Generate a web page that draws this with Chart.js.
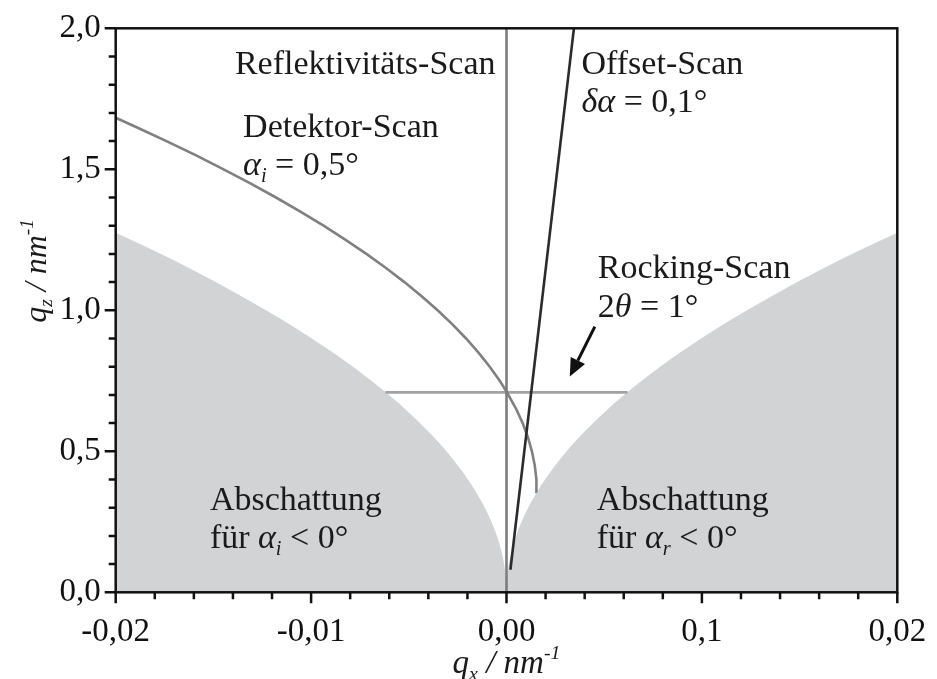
<!DOCTYPE html>
<html><head><meta charset="utf-8">
<script src="https://cdn.jsdelivr.net/npm/chart.js@4.4.1/dist/chart.umd.min.js"></script>
<style>html,body{margin:0;padding:0;background:#fff;}#wrap{width:937px;height:679px;}</style>
</head><body><div id="wrap"><canvas id="c" width="937" height="679"></canvas></div>
<script>
// ---- tick values & labels ----
const xMajorTicks = [-0.02, -0.01, 0, 0.01, 0.02];
const xTickLabels = ["-0,02", "-0,01", "0,00", "0,1", "0,02"];
const xMinorTicks = [-0.018,-0.016,-0.014,-0.012,-0.008,-0.006,-0.004,-0.002,0.002,0.004,0.006,0.008,0.012,0.014,0.016,0.018];
const yMajorTicks = [0, 0.5, 1.0, 1.5, 2.0];
const yTickLabels = ["0,0", "0,5", "1,0", "1,5", "2,0"];
const yMinorTicks = [0.1,0.2,0.3,0.4,0.6,0.7,0.8,0.9,1.1,1.2,1.3,1.4,1.6,1.7,1.8,1.9];

// ---- shadow region (alpha < 0), left half ----
const shadeLeftX = [-0.02,-0.018,-0.016,-0.014,-0.012,-0.010,-0.008,-0.006,-0.005,-0.004,-0.003,-0.002,-0.0015,-0.001,-0.0006,-0.0003,-0.0001,-0.00003,0];
const shadeLeftY = [1.275,1.210,1.141,1.067,0.988,0.902,0.807,0.699,0.638,0.570,0.494,0.403,0.349,0.285,0.221,0.156,0.090,0.049,0];
// right half
const shadeRightX = [0,0.00003,0.0001,0.0003,0.0006,0.001,0.0015,0.002,0.003,0.004,0.005,0.006,0.008,0.010,0.012,0.014,0.016,0.018,0.02];
const shadeRightY = [0,0.049,0.090,0.156,0.221,0.285,0.349,0.403,0.494,0.570,0.638,0.699,0.807,0.902,0.988,1.067,1.141,1.210,1.275];

// ---- Detektor-Scan curve ----
const detQx = [0.001555,0.001531,0.001447,0.001301,0.001095,0.000826,0.000497,0,-0.000346,-0.000859,-0.001433,-0.002069,-0.002766,-0.003525,-0.004344,-0.005225,-0.006167,-0.007171,-0.008235,-0.009361,-0.010549,-0.011797,-0.013107,-0.014478,-0.01591,-0.017404,-0.018959,-0.02];
const detQz = [0.356,0.40,0.45,0.50,0.55,0.60,0.65,0.712,0.75,0.80,0.85,0.90,0.95,1.00,1.05,1.10,1.15,1.20,1.25,1.30,1.35,1.40,1.45,1.50,1.55,1.60,1.65,1.683];

// ---- straight scans ----
const reflQx = [0, 0];      const reflQz = [0, 2.0];
const offsetQx = [0.0002, 0.00345]; const offsetQz = [0.08, 2.0];
const rockQx = [-0.0062, 0.0062]; const rockQz = [0.709, 0.709];

// ---- arrow (data coords) ----
const arrowFrom = [0.00452, 0.942];
const arrowTo = [0.00324, 0.765];

const pts = (xs, ys) => xs.map((x, i) => ({x, y: ys[i]}));

const SERIF = '"Liberation Serif", "Times New Roman", serif';
const annotations = [
  {x:-0.0139, y:1.838, parts:[{t:"Reflektivitäts-Scan"}]},
  {x:-0.01348, y:1.616, parts:[{t:"Detektor-Scan"}]},
  {x:-0.01348, y:1.480, parts:[{t:"α",it:1},{t:"i",it:1,sub:1},{t:" = 0,5°"}]},
  {x:0.00384, y:1.838, parts:[{t:"Offset-Scan"}]},
  {x:0.00384, y:1.704, parts:[{t:"δα",it:1},{t:" = 0,1°"}]},
  {x:0.00467, y:1.115, parts:[{t:"Rocking-Scan"}]},
  {x:0.00467, y:0.976, parts:[{t:"2"},{t:"θ",it:1},{t:" = 1°"}]},
  {x:-0.01518, y:0.292, parts:[{t:"Abschattung"}]},
  {x:-0.01518, y:0.157, parts:[{t:"für "},{t:"α",it:1},{t:"i",it:1,sub:1},{t:" < 0°"}]},
  {x:0.00462, y:0.292, parts:[{t:"Abschattung"}]},
  {x:0.00462, y:0.157, parts:[{t:"für "},{t:"α",it:1},{t:"r",it:1,sub:1},{t:" < 0°"}]}
];

function measureRich(ctx, parts, size) {
  let w = 0;
  for (const p of parts) {
    const fs = (p.sub || p.sup) ? size * 0.6 : size;
    ctx.font = (p.it ? 'italic ' : '') + fs + 'px ' + SERIF;
    w += ctx.measureText(p.t).width;
  }
  return w;
}
function drawRich(ctx, x, y, parts, size) {
  let cx = x;
  ctx.textAlign = 'left';
  ctx.textBaseline = 'alphabetic';
  for (const p of parts) {
    const fs = (p.sub || p.sup) ? size * 0.6 : size;
    ctx.font = (p.it ? 'italic ' : '') + fs + 'px ' + SERIF;
    const dy = p.sub ? size * 0.2 : (p.sup ? -size * 0.42 : 0);
    ctx.fillText(p.t, cx, y + dy);
    cx += ctx.measureText(p.t).width;
  }
}

const overlay = {
  id: 'overlay',
  afterDraw(chart) {
    const ctx = chart.ctx, xs = chart.scales.x, ys = chart.scales.y, a = chart.chartArea;
    ctx.save();
    ctx.strokeStyle = '#111'; ctx.lineWidth = 2.5; ctx.lineCap = 'butt';
    // frame
    ctx.strokeRect(a.left, a.top, a.right - a.left, a.bottom - a.top);
    // ticks
    ctx.beginPath();
    for (const v of xMajorTicks) { const p = xs.getPixelForValue(v); ctx.moveTo(p, a.bottom); ctx.lineTo(p, a.bottom + 11); }
    for (const v of yMajorTicks) { const p = ys.getPixelForValue(v); ctx.moveTo(a.left - 11, p); ctx.lineTo(a.left, p); }
    for (const v of xMinorTicks) { const p = xs.getPixelForValue(v); ctx.moveTo(p, a.bottom); ctx.lineTo(p, a.bottom + 7); }
    for (const v of yMinorTicks) { const p = ys.getPixelForValue(v); ctx.moveTo(a.left - 7, p); ctx.lineTo(a.left, p); }
    ctx.stroke();
    // arrow
    const x0 = xs.getPixelForValue(arrowFrom[0]), y0 = ys.getPixelForValue(arrowFrom[1]);
    const x1 = xs.getPixelForValue(arrowTo[0]), y1 = ys.getPixelForValue(arrowTo[1]);
    const ang = Math.atan2(y1 - y0, x1 - x0);
    const L = 18, W = 8;
    const bx = x1 - L * Math.cos(ang), by = y1 - L * Math.sin(ang);
    ctx.strokeStyle = '#111'; ctx.lineWidth = 3;
    ctx.beginPath(); ctx.moveTo(x0, y0); ctx.lineTo(bx, by); ctx.stroke();
    ctx.fillStyle = '#111';
    ctx.beginPath();
    ctx.moveTo(x1, y1);
    ctx.lineTo(bx + W * Math.sin(ang), by - W * Math.cos(ang));
    ctx.lineTo(bx - W * Math.sin(ang), by + W * Math.cos(ang));
    ctx.closePath(); ctx.fill();
    // annotations
    ctx.fillStyle = '#1a1a1a';
    for (const an of annotations) {
      drawRich(ctx, xs.getPixelForValue(an.x), ys.getPixelForValue(an.y), an.parts, 34);
    }
    // axis titles
    const xt = [{t:"q",it:1},{t:"x",it:1,sub:1},{t:" / nm",it:1},{t:"-1",it:1,sup:1}];
    const w1 = measureRich(ctx, xt, 33);
    drawRich(ctx, (a.left + a.right) / 2 - w1 / 2, 673, xt, 33);
    const yt = [{t:"q",it:1},{t:"z",it:1,sub:1},{t:" / nm",it:1},{t:"-1",it:1,sup:1}];
    const w2 = measureRich(ctx, yt, 32);
    ctx.translate(46, 271);
    ctx.rotate(-Math.PI / 2);
    drawRich(ctx, -w2 / 2, 0, yt, 32);
    ctx.restore();
  }
};

new Chart(document.getElementById('c'), {
  type: 'scatter',
  data: {
    datasets: [
      {data: pts(offsetQx, offsetQz), showLine: true, borderColor: '#2b2b2b', borderWidth: 2.6, pointRadius: 0, order: 0},
      {data: pts(reflQx, reflQz), showLine: true, borderColor: '#7c7c7c', borderWidth: 2.6, pointRadius: 0, order: 1},
      {data: pts(detQx, detQz), showLine: true, borderColor: '#808080', borderWidth: 2.6, pointRadius: 0, order: 2},
      {data: pts(rockQx, rockQz), showLine: true, borderColor: '#a2a2a2', borderWidth: 2.6, pointRadius: 0, order: 3},
      {data: pts(shadeLeftX, shadeLeftY), showLine: true, borderWidth: 0, borderColor: 'rgba(0,0,0,0)', backgroundColor: '#d1d3d4', fill: 'origin', pointRadius: 0, cubicInterpolationMode: 'monotone', order: 10},
      {data: pts(shadeRightX, shadeRightY), showLine: true, borderWidth: 0, borderColor: 'rgba(0,0,0,0)', backgroundColor: '#d1d3d4', fill: 'origin', pointRadius: 0, cubicInterpolationMode: 'monotone', order: 11}
    ]
  },
  options: {
    responsive: false, animation: false, devicePixelRatio: 1,
    layout: {padding: {top: 28.3, right: 39.7, left: 0, bottom: 0}},
    plugins: {legend: {display: false}, tooltip: {enabled: false}},
    scales: {
      x: {
        type: 'linear', min: -0.02, max: 0.02,
        afterBuildTicks: s => { s.ticks = xMajorTicks.map(v => ({value: v})); },
        afterFit: s => { s.height = 86.7; },
        ticks: {autoSkip: false, maxRotation: 0, padding: 9, color: '#111',
          font: {family: SERIF, size: 33},
          callback: (v, i) => xTickLabels[i]},
        grid: {display: true, drawOnChartArea: false, drawTicks: true, tickLength: 11, tickColor: 'rgba(0,0,0,0)'},
        border: {display: false}
      },
      y: {
        type: 'linear', min: 0, max: 2.0,
        afterBuildTicks: s => { s.ticks = yMajorTicks.map(v => ({value: v})); },
        afterFit: s => { s.width = 115.7; },
        ticks: {autoSkip: false, padding: 4, color: '#111',
          font: {family: SERIF, size: 33},
          callback: (v, i) => yTickLabels[i]},
        grid: {display: true, drawOnChartArea: false, drawTicks: true, tickLength: 11, tickColor: 'rgba(0,0,0,0)'},
        border: {display: false}
      }
    }
  },
  plugins: [overlay]
});
</script>
</body></html>
